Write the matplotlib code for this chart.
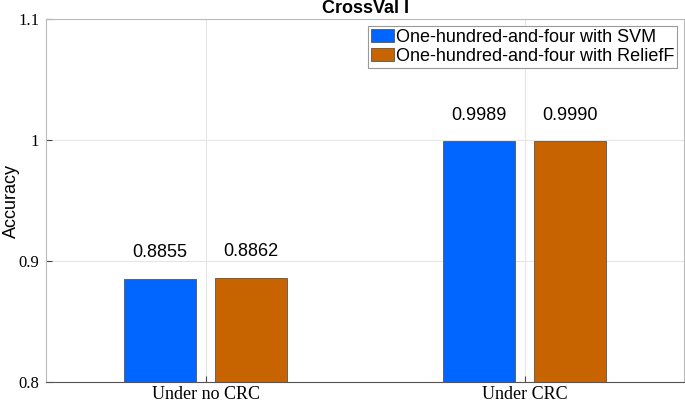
import matplotlib
matplotlib.use("Agg")
import matplotlib.pyplot as plt
import numpy as np

# data
categories = ["Under no CRC", "Under CRC"]
series_names = ["One-hundred-and-four with SVM", "One-hundred-and-four with ReliefF"]
svm_acc = [0.8855, 0.9989]
relieff_acc = [0.8862, 0.9990]
colors = ["#0066FF", "#C86400"]

fig = plt.figure(figsize=(6.85, 4.05), dpi=100)
ax = fig.add_axes([46/685, 23/405, 638/685, 363/405])

x = np.arange(1, len(categories) + 1)
w = 0.226
off = 0.143
for vals, sign, col, name in zip([svm_acc, relieff_acc], [-1, 1], colors, series_names):
    ax.bar(x + sign*off, vals, width=w, color=col, edgecolor="#555555",
           linewidth=0.6, label=name, zorder=3)
    for xi, v in zip(x + sign*off, vals):
        ax.text(xi, v + 0.0178, f"{v:.4f}", ha="center", va="baseline",
                fontsize=13, family="Liberation Sans", zorder=4)

ax.set_xlim(0.5, 2.5)
ax.set_ylim(0.8, 1.1)
ax.set_yticks([0.8, 0.9, 1.0, 1.1])
ax.set_yticklabels(["0.8", "0.9", "1", "1.1"], family="Liberation Serif", fontsize=12)
ax.set_xticks(x)
ax.set_xticklabels(categories, family="Liberation Serif", fontsize=13)
ax.grid(True, color="#e6e6e6", linewidth=0.8, zorder=0)
ax.tick_params(direction="in", length=4, color="#444444", pad=3)
ax.tick_params(axis="y", pad=5)
for s in ax.spines.values():
    s.set_color("#bbbbbb")
    s.set_linewidth(0.8)
ax.spines["bottom"].set_color("#555555")

ax.set_ylabel("Accuracy", family="Liberation Sans", fontsize=13)
ax.yaxis.set_label_coords(-0.0415, 0.5)
ax.set_title("CrossVal I", family="Liberation Sans", fontsize=13, fontweight="bold", pad=4)

leg = ax.legend(loc="upper right", prop={"family": "Liberation Sans", "size": 13},
                fancybox=False, framealpha=1, edgecolor="#999999",
                handlelength=1.25, handleheight=0.75, handletextpad=0.12,
                borderpad=0.15, labelspacing=0.12, borderaxespad=0.4)
leg.get_frame().set_linewidth(0.8)

fig.savefig("out.png", dpi=100)
